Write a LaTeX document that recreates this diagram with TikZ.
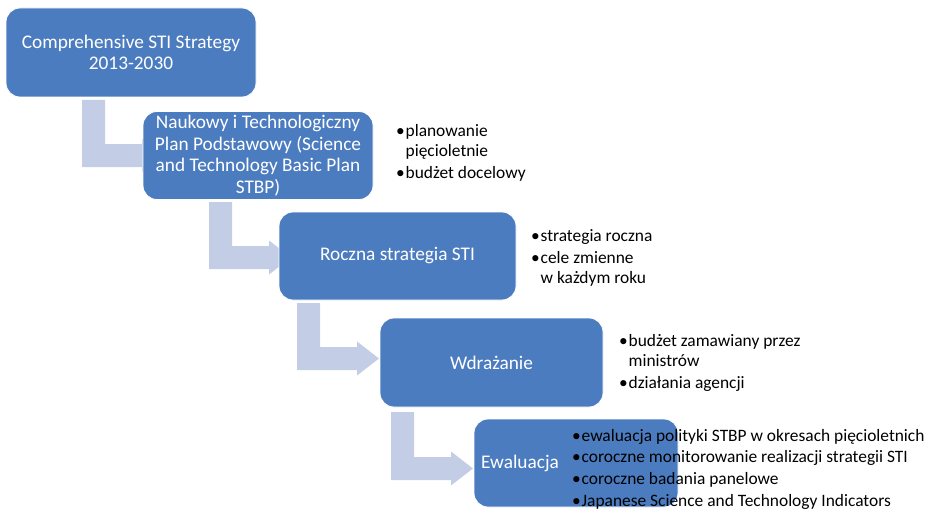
\documentclass[tikz,border=0pt]{standalone}
\usepackage{fontspec}
\setmainfont{Carlito}
\definecolor{boxblue}{RGB}{76,124,192}
\definecolor{arrowtint}{RGB}{195,206,230}
% bent step arrow: #1 = left x of the vertical bar, #2 = top y, #3 = y of the horizontal axis
\newcommand\bentarrow[3]{%
  \fill[arrowtint] (#1,#2) -- ({#1+23},#2) -- ({#1+23},{#3-11.5}) -- ({#1+60},{#3-11.5})
    -- ({#1+60},{#3-17}) -- ({#1+82},#3) -- ({#1+60},{#3+17}) -- ({#1+60},{#3+11.5})
    -- (#1,{#3+11.5}) -- cycle;}
\newcommand\blist[1]{\begin{tabular}[t]{@{}l@{\hspace{0.8pt}}l@{}}#1\end{tabular}}
\begin{document}
\begin{tikzpicture}[x=1pt,y=-1pt,
  stepbox/.style={rectangle, rounded corners=14pt, fill=boxblue, draw=white,
    line width=0.8pt, text=white, font=\fontsize{19.3}{21.5}\selectfont,
    align=center, inner sep=0pt},
  bullets/.style={anchor=base west, inner sep=0pt,
    font=\fontsize{17.4}{20}\selectfont, text=black}]
\useasboundingbox (0,0) rectangle (927,511);

% connecting arrows (drawn first, boxes sit on top of them)
\bentarrow{82}{100}{155.5}
\bentarrow{209}{202}{257.5}
\bentarrow{297}{303}{358.5}
\bentarrow{391}{412}{468.5}

% process steps
\node[stepbox, minimum width=250, minimum height=89] (s1) at (131,52.5)
  {Comprehensive STI Strategy\\2013-2030};
\node[stepbox, minimum width=230, minimum height=88] (s2) at (258,155.5)
  {Naukowy i Technologiczny\\Plan Podstawowy (Science\\and Technology Basic Plan\\STBP)};
\node[stepbox, minimum width=237, minimum height=88] (s3) at (397.5,256)
  {Roczna strategia STI};
\node[stepbox, minimum width=223, minimum height=89] (s4) at (491.5,362.5)
  {Wdrażanie};
\node[stepbox, minimum width=204, minimum height=88] (s5) at (576,463) {};
\node[text=white, font=\fontsize{19.3}{21.5}\selectfont, inner sep=0pt] (s5t) at (520,463)
  {Ewaluacja};

% bullet details beside each step
\node[bullets] (d2) at (396,136.5) {\blist{%
  •&planowanie\\ &pięcioletnie\\[2pt]
  •&budżet docelowy}};
\node[bullets] (d3) at (531,241) {\blist{%
  •&strategia roczna\\[2pt]
  •&cele zmienne\\ &w każdym roku}};
\node[bullets] (d4) at (619,346) {\blist{%
  •&budżet zamawiany przez\\ &ministrów\\[2pt]
  •&działania agencji}};
\node[bullets] (d5) at (572,441) {\blist{%
  •&ewaluacja polityki STBP w okresach pięcioletnich\\[1.7pt]
  •&coroczne monitorowanie realizacji strategii STI\\[1.7pt]
  •&coroczne badania panelowe\\[1.7pt]
  •&Japanese Science and Technology Indicators}};
\end{tikzpicture}
\end{document}
